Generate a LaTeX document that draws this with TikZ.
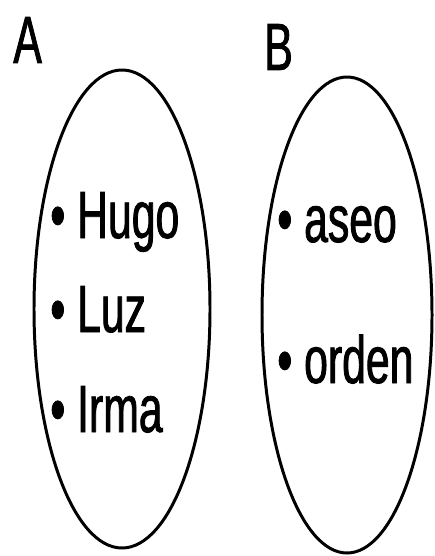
\documentclass[tikz,border=0pt]{standalone}
\usepackage{fontspec}
\setmainfont{Liberation Sans}[FakeStretch=0.64, FakeBold=1.2]
\usepackage{tikz}
\usetikzlibrary{positioning}

\tikzset{
    conj/.style={line width=1.7pt},
    elem/.style={anchor=base west, inner sep=0pt, font=\fontsize{38}{40}\selectfont},
    nombre/.style={anchor=base west, inner sep=0pt, font=\fontsize{38}{40}\selectfont}
}

\begin{document}
\begin{tikzpicture}
                            \useasboundingbox (0, 0) rectangle (8.7, -11.12);
                            \draw[conj] (2.44, -6.18) ellipse [x radius=1.76, y radius=4.78];
                            \draw[conj] (6.94, -6.30) ellipse [x radius=1.70, y radius=4.76];
                            \node[nombre] (la) at (0.26, -1.26) {A};
                            \node[nombre] (lb) at (5.28, -1.40) {B};
                            \node[elem] (hugo) at (1.0, -4.76) {• Hugo};
                            \node[elem] (luz) at (1.0, -6.64) {• Luz};
                            \node[elem] (irma) at (1.0, -8.64) {• Irma};
                            \node[elem] (aseo) at (5.54, -4.84) {• aseo};
                            \node[elem] (orden) at (5.54, -7.66) {• orden};
                        \end{tikzpicture}
\end{document}
